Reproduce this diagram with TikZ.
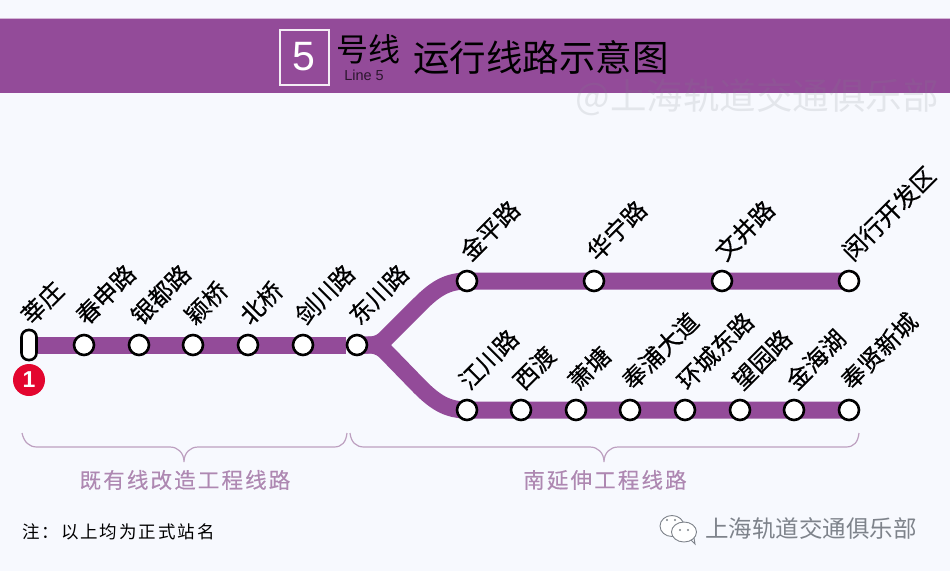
\documentclass[tikz,border=0pt]{standalone}
\usepackage{fontspec}
\setmainfont{Noto Sans CJK SC}
\newfontfamily\latinf{Liberation Sans}
\usetikzlibrary{arrows.meta, backgrounds}
\definecolor{linepurple}{HTML}{934B99}
\definecolor{pagebg}{HTML}{F7F9FE}
\definecolor{bracecol}{HTML}{BDA0C0}
\definecolor{sectext}{HTML}{AE88B2}
\definecolor{markgray}{HTML}{7E838B}
\definecolor{startred}{HTML}{E3062F}
\tikzset{
  station/.style={circle, draw=black, fill=white, line width=2.6pt, minimum size=20pt, inner sep=0pt},
  stname/.style={rotate=45, anchor=west, inner sep=0pt, font=\fontsize{24}{24}\selectfont\addfontfeature{FakeBold=0.4}},
  route/.style={linepurple, line width=17pt},
  bracket/.style={bracecol, line width=1.2pt},
  sectitle/.style={inner sep=0pt, text=sectext, font=\fontsize{21.5}{22}\selectfont\addfontfeature{LetterSpace=10,FakeBold=0.3}},
}
\begin{document}
\begin{tikzpicture}[x=1pt, y=-1pt]
\useasboundingbox (0,0) rectangle (950,571);
% title band
\fill[linepurple] (0,19) rectangle (950,93);
\draw[linepurple!40, line width=1pt] (0,18.5)--(950,18.5);
\node[draw=white!90!linepurple, line width=2pt, minimum width=49pt, minimum height=55pt, inner sep=0pt, text=white, font=\latinf\fontsize{41}{41}\selectfont] (linebox) at (304,57) {5};
\node[inner sep=0pt, font=\fontsize{32}{32}\selectfont] (hao) at (368,49) {号线};
\node[inner sep=0pt, text=black!70!linepurple, font=\latinf\fontsize{14.5}{15}\selectfont] (lineno) at (364,75) {Line 5};
\node[inner sep=0pt, font=\fontsize{36.5}{37}\selectfont] (title) at (541,58) {运行线路示意图};
\node[inner sep=0pt, text=markgray, text opacity=0.16, font=\fontsize{36.5}{37}\selectfont] (markup) at (757,97) {@上海轨道交通俱乐部};
% stations
\node[draw=black, fill=white, line width=2.6pt, rounded corners=7pt, minimum width=15pt, minimum height=30pt, inner sep=0pt] (main0) at (29,345) {};
\foreach \i/\x in {1/84, 2/139, 3/193, 4/248, 5/303, 6/357}
  \node[station] (main\i) at (\x,345) {};
\foreach \i/\x in {1/467, 2/594, 3/722, 4/849}
  \node[station] (up\i) at (\x,281) {};
\foreach \i/\x in {1/467, 2/521, 3/576, 4/630, 5/685, 6/740, 7/794, 8/849}
  \node[station] (low\i) at (\x,410) {};
% route
\begin{scope}[on background layer]
\fill[pagebg] (0,0) rectangle (950,571);
\draw[route] (main0)--(main6);
\draw[route] (main6.center)--(368,345) .. controls (375,345) and (379,344) .. (385,339)--(420,304) .. controls (436,288) and (448,281) .. (up1.center)--(up4.center);
\draw[route] (main6.center)--(368,345) .. controls (375,345) and (379,346) .. (385,351)--(420,387) .. controls (436,403) and (448,410) .. (low1.center)--(low8.center);
\end{scope}
% station names
\foreach \i/\x/\t in {0/29/莘庄, 1/84/春申路, 2/139/银都路, 3/193/颖桥, 4/248/北桥, 5/303/剑川路, 6/357/东川路}
  \node[stname] (mainname\i) at (\x-4,320) {\t};
\foreach \i/\x/\t in {1/467/金平路, 2/594/华宁路, 3/722/文井路, 4/849/闵行开发区}
  \node[stname] (upname\i) at (\x-3,256) {\t};
\foreach \i/\x/\t in {1/467/江川路, 2/521/西渡, 3/576/萧塘, 4/630/奉浦大道, 5/685/环城东路, 6/740/望园路, 7/794/金海湖, 8/849/奉贤新城}
  \node[stname] (lowname\i) at (\x-4,385) {\t};
% start marker
\node[circle, fill=startred, minimum size=32pt, inner sep=0pt, text=white, font=\latinf\bfseries\fontsize{23}{23}\selectfont] (startmark) at (29,380) {1};
% brackets
\draw[bracket] (22,433) .. controls (24,442) and (29,447) .. (37,447)--(170,447) .. controls (178,447) and (184,453) .. (184,462) .. controls (184,453) and (190,447) .. (198,447)--(334,447) .. controls (342,447) and (346,442) .. (347,433);
\draw[bracket] (350,433) .. controls (351,442) and (356,447) .. (364,447)--(590,447) .. controls (598,447) and (604,453) .. (604,462) .. controls (604,453) and (610,447) .. (618,447)--(846,447) .. controls (854,447) and (858,442) .. (859,433);
\node[sectitle] (oldsec) at (185,480) {既有线改造工程线路};
\node[sectitle] (newsec) at (605,480) {南延伸工程线路};
% note
\node[inner sep=0pt, anchor=west, font=\fontsize{17.5}{18}\selectfont\addfontfeature{LetterSpace=11}] (note) at (22,532) {注：以上均为正式站名};
% bottom mark
\draw[markgray, fill=white, line width=.9pt] (672,526) ellipse (12pt and 10.5pt);
\draw[markgray, fill=white, line width=.9pt] (684,532) ellipse (12.5pt and 10pt);
\draw[markgray, line width=.9pt] (691,540)--(695,544)--(694,538);
\foreach \x/\y in {667/520, 675/520, 680/530, 688/530}
  \fill[markgray] (\x,\y) circle (1.2pt);
\node[inner sep=0pt, text=markgray, font=\fontsize{23.5}{24}\selectfont] (marklow) at (811,529) {上海轨道交通俱乐部};
\end{tikzpicture}
\end{document}
